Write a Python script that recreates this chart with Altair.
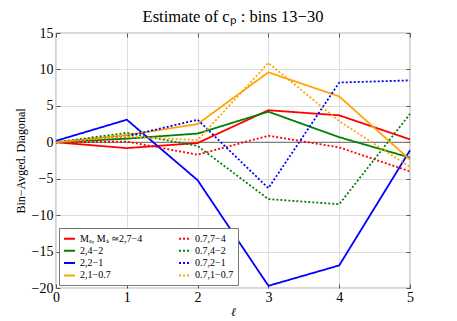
import altair as alt
import pandas as pd

ell = [0, 1, 2, 3, 4, 5]

solid_7_4 = [0.0, -0.8, -0.1, 4.4, 3.7, 0.4]
solid_4_2 = [0.0, 0.5, 1.2, 4.2, 0.7, -2.1]
solid_2_1 = [0.2, 3.1, -5.2, -19.7, -16.9, -1.1]
solid_1_07 = [0.0, 1.0, 2.5, 9.6, 6.3, -2.4]
dot_7_4 = [0.0, 0.1, -1.7, 0.9, -0.7, -4.0]
dot_4_2 = [0.0, 1.3, -0.5, -7.8, -8.5, 3.9]
dot_2_1 = [0.0, 0.8, 3.1, -6.3, 8.2, 8.5]
dot_1_07 = [0.0, 0.8, 0.3, 10.9, 2.9, -3.4]

labels = ["Mₐ,  Mₛ ≃2,7−4", "2,4−2", "2,2−1", "2,1−0.7",
          "0.7,7−4", "0.7,4−2", "0.7,2−1", "0.7,1−0.7"]
series = [solid_7_4, solid_4_2, solid_2_1, solid_1_07,
          dot_7_4, dot_4_2, dot_2_1, dot_1_07]
colors = ["#ff0000", "#008000", "#0000ff", "#ffa500",
          "#ff0000", "#008000", "#0000ff", "#ffa500"]
dashes = [[1, 0], [1, 0], [1, 0], [1, 0], [2, 2], [2, 2], [2, 2], [2, 2]]

x_ticks = [0, 1, 2, 3, 4, 5]
y_ticks = [-20, -15, -10, -5, 0, 5, 10, 15]

rows = []
for lab, vals in zip(labels, series):
    for e, v in zip(ell, vals):
        rows.append({"series": lab, "ell": e, "value": v})
df = pd.DataFrame(rows)
df_zero = pd.DataFrame({"ell": [0, 5], "z": [0, 0]})

W, H = 354, 255
FONT = "Liberation Serif"

xscale = alt.Scale(domain=[0, 5], nice=False, zero=False)
yscale = alt.Scale(domain=[-20, 15], nice=False, zero=False)

lines = alt.Chart(df).mark_line(strokeWidth=1.8).encode(
    x=alt.X("ell:Q", scale=xscale, title="ℓ",
            axis=alt.Axis(values=x_ticks, ticks=False, domain=False, labelPadding=2,
                          labelFlush=False, labelFontSize=14, titleFontSize=12,
                          titleFont=FONT, titleFontStyle="italic",
                          titleFontWeight="normal", titlePadding=2)),
    y=alt.Y("value:Q", scale=yscale, title="Bin−Avged.  Diagonal",
            axis=alt.Axis(values=y_ticks, ticks=False, domain=False, labelPadding=3,
                          labelFlush=False, labelFontSize=14, titleFontSize=12,
                          titleFont=FONT, titleFontWeight="normal", titlePadding=4)),
    color=alt.Color("series:N", scale=alt.Scale(domain=labels, range=colors),
                    legend=alt.Legend(title=None, columns=2, orient="bottom-left",
                                      symbolType="stroke", symbolSize=120,
                                      symbolStrokeWidth=2, labelFont=FONT,
                                      labelFontSize=10, strokeColor="#777",
                                      fillColor="white", padding=4, offset=3,
                                      rowPadding=0.3, columnPadding=30,
                                      labelLimit=200)),
    strokeDash=alt.StrokeDash("series:N", scale=alt.Scale(domain=labels, range=dashes),
                              legend=None),
)

zero = alt.Chart(df_zero).mark_line(color="#666", strokeWidth=1).encode(
    x=alt.X("ell:Q", scale=xscale,
            axis=alt.Axis(orient="top", offset=-H, values=x_ticks, labels=False,
                          domain=False, ticks=True, tickSize=4, tickColor="#555", title=None)),
    y=alt.Y("z:Q", scale=yscale,
            axis=alt.Axis(orient="right", offset=-W, values=y_ticks, labels=False,
                          domain=False, ticks=True, tickSize=4, tickColor="#555", title=None)),
)

ghost = alt.Chart(df_zero).mark_line(opacity=0).encode(
    x=alt.X("ell:Q", scale=xscale,
            axis=alt.Axis(orient="bottom", offset=-H, values=x_ticks, labels=False,
                          domain=False, ticks=True, tickSize=4, tickColor="#555", title=None)),
    y=alt.Y("z:Q", scale=yscale,
            axis=alt.Axis(orient="left", offset=-W, values=y_ticks, labels=False,
                          domain=False, ticks=True, tickSize=4, tickColor="#555", title=None)),
)

chart = alt.layer(zero, ghost, lines).resolve_axis(
    x="independent", y="independent"
).properties(
    width=W, height=H,
    padding={"left": 6, "top": 0, "right": 0, "bottom": 0},
    title=alt.TitleParams("Estimate  of  cₚ :  bins  13−30", font=FONT, fontSize=16.5,
                          fontWeight="normal", offset=1, anchor="middle"),
).configure(font=FONT).configure_axis(
    labelFont=FONT, labelColor="black", titleColor="black"
).configure_view(stroke="#666", strokeWidth=1.2)

chart.save("out.html", embed_options={"renderer": "svg", "actions": False})
